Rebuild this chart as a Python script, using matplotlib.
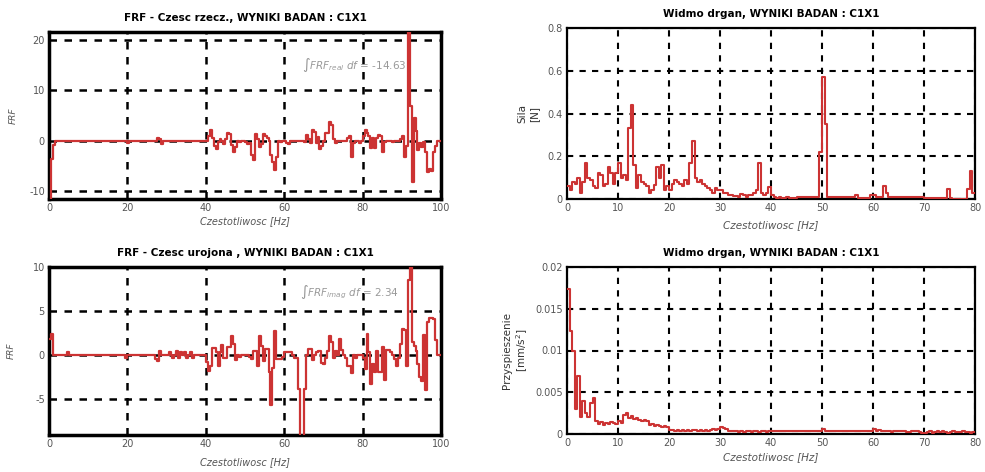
import numpy as np
import matplotlib
matplotlib.use("Agg")
import matplotlib.pyplot as plt

# ---------------- data ----------------
# FRF frequency grid (0.5 Hz step, 0..100 Hz)
frf_freq = np.arange(0, 100.5, 0.5)

frf_real = [
    -12, -3.5, -0.8, 0, 0, 0, 0, 0, 0, 0,          # 0-4.5
    0, 0, 0, 0, 0, 0, 0, 0, 0, 0,                   # 5-9.5
    0, 0, 0, 0, 0, 0, 0, 0, 0, 0,                   # 10-14.5
    0, 0, 0, 0, 0, 0, 0, 0, 0, 0,                   # 15-19.5
    -0.4, 0, 0, 0, 0, 0, 0, 0, 0, 0,                # 20-24.5
    0, 0, 0, 0, 0, 0.5, 0.3, -0.6, 0, 0,            # 25-29.5
    0, 0, 0, 0, 0, 0, 0, 0, 0, 0,                   # 30-34.5
    0, 0, 0, 0, 0, 0, 0, 0, 0, 0,                   # 35-39.5
    0, 1.0, 2.2, 0.5, -1.0, -1.6, -0.3, 0.4, 0, -0.6,   # 40-44.5
    0.3, 1.5, 1.4, -0.8, -2.2, -1.2, 0, -0.3, 0, 0,     # 45-49.5
    -0.3, -0.6, -0.5, -2.9, -3.7, 1.4, 0.3, -1.3, -0.6, 1.4,  # 50-54.5
    1.0, 0.5, 0, -2.9, -4.2, -5.8, -3.2, 0, -0.3, 0,    # 55-59.5
    0, -0.5, -0.6, 0, 0, 0, 0, 0, 0, 0,                 # 60-64.5
    -0.3, 1.2, 0.3, -0.4, 2.1, 1.8, -0.5, 0.7, -1.6, -1.0,  # 65-69.5
    0, 1.6, 1.6, 3.7, 3.2, 0.3, -0.5, 0, 0, 0,          # 70-74.5
    0, 0, 0.5, 1.0, -3.2, -0.5, 0, 0, -0.5, 0,          # 75-79.5
    1.0, 2.1, 1.5, 1.0, -1.5, 0.5, -1.5, 0.5, 1.2, 1.0, # 80-84.5
    -2.2, -0.3, 0, 0, 0, -0.3, 0, 0, 0, 0.3,            # 85-89.5
    1.0, -3.2, -1.0, 23, 6.8, -8.2, 4.5, 2.0, -1.9, -0.5,  # 90-94.5
    -1.2, -0.3, -2.3, -6.1, -5.5, -6.0, -2.3, -1.0, 0, 0,  # 95-99.5
    0,                                                  # 100
]

frf_imag = [
    1.8, 2.4, 0, 0, 0, 0, 0, 0, 0, 0.3,             # 0-4.5
    0, 0, 0, 0, 0, 0, 0, 0, 0, 0,                   # 5-9.5
    0, 0, 0, 0, 0, 0, 0, 0, 0, 0,                   # 10-14.5
    0, 0, 0, 0, 0, 0, 0, 0, 0, -0.3,                # 15-19.5
    0, 0, 0, 0, 0, 0, 0, 0, 0, 0,                   # 20-24.5
    0, 0, 0, 0, -0.5, -0.7, 0.5, 0, 0, 0,           # 25-29.5
    0, 0.3, 0, -0.3, 0, 0.5, -0.4, 0.3, 0, 0.3,     # 30-34.5
    -0.3, 0, 0.3, -0.4, 0, 0, 0, 0, 0, 0,           # 35-39.5
    -0.8, -1.8, -1.2, 0.8, 0.8, 0.3, -1.3, 0.3, 1.1, -0.4,  # 40-44.5
    -0.4, 0.9, 0.9, 2.1, 1.3, -0.6, 0, -0.2, 0, 0,      # 45-49.5
    0, 0, -0.2, -0.5, 0.5, 0.5, -1.2, 2.2, 1.0, -0.7,   # 50-54.5
    0.7, 0.7, -1.9, -5.7, -1.5, 2.7, -0.5, -0.5, -0.5, -0.2,  # 55-59.5
    0.3, 0.3, 0.3, 0.3, 0, -0.3, -0.3, -3.9, -9.5, -9.5,      # 60-64.5
    -3.9, 0, 0.7, 0.7, -0.6, 0, 0.3, 0.5, 0.5, -0.9,    # 65-69.5
    -1.0, -0.3, 0.5, 2.1, 1.5, -0.3, 0.5, 0, 1.8, 0.6,  # 70-74.5
    0, -0.3, -1.2, -1.3, -2.0, 0, -0.3, 0, 0, 0,        # 75-79.5
    -0.3, -1.6, 2.4, 0.3, -3.3, -1.0, -1.9, 0.5, -1.9, -1.9,  # 80-84.5
    0.9, -2.8, 0.6, 0.6, 0.3, 0, -0.5, -1.3, -0.3, 1.2,  # 85-89.5
    3.0, 2.8, -1.3, 8.5, 10.5, 1.5, 1.0, 0.4, -1.0, -2.5,  # 90-94.5
    -3.0, 2.3, -4.0, 3.8, 4.2, 4.2, 4.1, 1.7, 0, 0,     # 95-99.5
    0,                                                  # 100
]

# Spectrum frequency grid (0.5 Hz step, 0..80 Hz)
spec_freq = np.arange(0, 80.5, 0.5)

force = [
    0.06, 0.04, 0.08, 0.07, 0.10, 0.03, 0.08, 0.17, 0.10, 0.09,   # 0-4.5
    0.06, 0.05, 0.12, 0.11, 0.06, 0.07, 0.15, 0.12, 0.07, 0.12,   # 5-9.5
    0.17, 0.10, 0.11, 0.09, 0.33, 0.44, 0.16, 0.05, 0.11, 0.08,   # 10-14.5
    0.07, 0.06, 0.03, 0.04, 0.065, 0.15, 0.10, 0.16, 0.04, 0.06,  # 15-19.5
    0.04, 0.07, 0.09, 0.08, 0.07, 0.06, 0.09, 0.07, 0.17, 0.27,   # 20-24.5
    0.10, 0.08, 0.09, 0.07, 0.06, 0.05, 0.04, 0.03, 0.05, 0.04,   # 25-29.5
    0.04, 0.03, 0.03, 0.02, 0.02, 0.015, 0.015, 0.01, 0.025, 0.02,  # 30-34.5
    0.01, 0.02, 0.02, 0.03, 0.04, 0.17, 0.03, 0.02, 0.03, 0.055,   # 35-39.5
    0.02, 0.01, 0.005, 0.01, 0.005, 0.005, 0.01, 0.005, 0.005, 0.005,  # 40-44.5
    0.01, 0.01, 0.01, 0.01, 0.01, 0.01, 0.01, 0.01, 0.01, 0.22,   # 45-49.5
    0.57, 0.35, 0.01, 0.01, 0.01, 0.01, 0.01, 0.01, 0.01, 0.01,   # 50-54.5
    0.01, 0.01, 0.01, 0.02, 0.005, 0.005, 0.005, 0.005, 0.005, 0.02,  # 55-59.5
    0.02, 0.01, 0.01, 0.01, 0.06, 0.03, 0.01, 0.01, 0.01, 0.01,   # 60-64.5
    0.01, 0.01, 0.01, 0.01, 0.01, 0.01, 0.01, 0.01, 0.01, 0.01,   # 65-69.5
    0.005, 0.005, 0.005, 0.005, 0.005, 0.005, 0.005, 0.005, 0.005, 0.045,  # 70-74.5
    0.005, 0.002, 0.002, 0.002, 0.002, 0.002, 0.002, 0.045, 0.13, 0.03,   # 75-79.5
    0.03,                                                          # 80
]

accel = [
    0.0174, 0.0123, 0.0099, 0.0030, 0.0070, 0.0020, 0.0040, 0.0025, 0.0020, 0.0037,  # 0-4.5
    0.0043, 0.0015, 0.0012, 0.0014, 0.0011, 0.0013, 0.0012, 0.0014, 0.0013, 0.0012,  # 5-9.5
    0.0015, 0.0013, 0.0023, 0.0025, 0.0019, 0.0021, 0.0018, 0.0019, 0.0017, 0.0016,  # 10-14.5
    0.0017, 0.0015, 0.0011, 0.0012, 0.0010, 0.0011, 0.0009, 0.0008, 0.0009, 0.0008,  # 15-19.5
    0.0005, 0.0005, 0.0004, 0.0005, 0.0004, 0.0005, 0.0004, 0.0005, 0.0004, 0.0005,  # 20-24.5
    0.0005, 0.0004, 0.0005, 0.0004, 0.0005, 0.0004, 0.0005, 0.0006, 0.0005, 0.0006,  # 25-29.5
    0.0008, 0.0007, 0.0006, 0.0004, 0.0003, 0.0004, 0.0003, 0.0002, 0.0003, 0.0002,  # 30-34.5
    0.0003, 0.0003, 0.0002, 0.0003, 0.0003, 0.0002, 0.0003, 0.0003, 0.0002, 0.0003,  # 35-39.5
    0.0003, 0.0003, 0.0003, 0.0003, 0.0003, 0.0003, 0.0003, 0.0003, 0.0003, 0.0003,  # 40-44.5
    0.0003, 0.0003, 0.0003, 0.0003, 0.0003, 0.0003, 0.0003, 0.0003, 0.0003, 0.0004,  # 45-49.5
    0.0006, 0.0004, 0.0003, 0.0003, 0.0003, 0.0004, 0.0004, 0.0003, 0.0004, 0.0004,  # 50-54.5
    0.0003, 0.0003, 0.0003, 0.0003, 0.0004, 0.0004, 0.0003, 0.0003, 0.0003, 0.0004,  # 55-59.5
    0.0006, 0.0004, 0.0005, 0.0003, 0.0004, 0.0003, 0.0003, 0.0002, 0.0003, 0.0003,  # 60-64.5
    0.0003, 0.0003, 0.0003, 0.0002, 0.0002, 0.0003, 0.0003, 0.0003, 0.0002, 0.0001,  # 65-69.5
    0.0001, 0.0002, 0.0003, 0.0001, 0.0002, 0.0003, 0.0002, 0.0003, 0.0002, 0.0001,  # 70-74.5
    0.0002, 0.0003, 0.0002, 0.0002, 0.0002, 0.0003, 0.0002, 0.0002, 0.0001, 0.0002,  # 75-79.5
    0.0002,                                                                          # 80
]

titles = [
    "FRF - Czesc rzecz., WYNIKI BADAN : C1X1",
    "FRF - Czesc urojona , WYNIKI BADAN : C1X1",
    "Widmo drgan, WYNIKI BADAN : C1X1",
    "Widmo drgan, WYNIKI BADAN : C1X1",
]
xlabel = "Czestotliwosc [Hz]"
frf_xticks = [0, 20, 40, 60, 80, 100]
real_yticks = [-10, 0, 10, 20]
imag_yticks = [-5, 0, 5, 10]
spec_xticks = [0, 10, 20, 30, 40, 50, 60, 70, 80]
force_yticks = [0, 0.2, 0.4, 0.6, 0.8]
force_yticklabels = ["0", "0.2", "0.4", "0.6", "0.8"]
accel_yticks = [0, 0.005, 0.01, 0.015, 0.02]
accel_yticklabels = ["0", "0.005", "0.01", "0.015", "0.02"]
real_integral = "-14.63"
imag_integral = "2.34"

# ---------------- style ----------------
RED = "#cc3333"
TICK_COL = "#555555"
plt.rcParams["font.family"] = ["DejaVu Sans"]
plt.rcParams["axes.unicode_minus"] = False

fig = plt.figure(figsize=(9.85, 4.72), dpi=100)
W, H = 985, 472


def add_ax(x0, y0, x1, y1):
    return fig.add_axes([x0 / W, 1 - y1 / H, (x1 - x0) / W, (y1 - y0) / H])


def style(ax, lw_frame, grid_lw):
    for s in ax.spines.values():
        s.set_linewidth(lw_frame)
        s.set_color("black")
    ax.tick_params(length=0, labelsize=7, labelcolor=TICK_COL, pad=3)
    ax.grid(True, color="black", linestyle=(0, (3, 3)), linewidth=grid_lw)
    ax.set_axisbelow(True)


ax1 = add_ax(49, 32, 441, 199)
ax2 = add_ax(49, 267, 441, 435)
ax3 = add_ax(567, 28, 975, 199)
ax4 = add_ax(567, 267, 975, 434)

# FRF real
ax1.plot(frf_freq, frf_real, color=RED, lw=1.6, drawstyle="steps-post", zorder=3)
ax1.set_xlim(0, 100)
ax1.set_ylim(-11.5, 21.5)
ax1.set_xticks(frf_xticks)
ax1.set_yticks(real_yticks)
style(ax1, 2.5, 1.8)
ax1.set_title(titles[0], fontsize=7.5, fontweight="bold", pad=8)
ax1.set_xlabel(xlabel, fontsize=7, color=TICK_COL, style="italic", labelpad=2)
ax1.set_ylabel("FRF", fontsize=6.5, color=TICK_COL, style="italic", labelpad=8)
ax1.text(64.5, 15, r"$\int FRF_{real}\ df$ = " + real_integral,
         fontsize=7.5, color="#999999", va="center", ha="left")

# FRF imag
ax2.plot(frf_freq, frf_imag, color=RED, lw=1.6, drawstyle="steps-post", zorder=3)
ax2.set_xlim(0, 100)
ax2.set_ylim(-9.1, 10)
ax2.set_xticks(frf_xticks)
ax2.set_yticks(imag_yticks)
style(ax2, 2.5, 1.8)
ax2.set_title(titles[1], fontsize=7.5, fontweight="bold", pad=8)
ax2.set_xlabel(xlabel, fontsize=7, color=TICK_COL, style="italic", labelpad=6)
ax2.set_ylabel("FRF", fontsize=6.5, color=TICK_COL, style="italic", labelpad=12)
ax2.text(64, 7.1, r"$\int FRF_{imag}\ df$ = " + imag_integral,
         fontsize=7.5, color="#999999", va="center", ha="left")

# Force spectrum
ax3.plot(spec_freq, force, color=RED, lw=1.5, drawstyle="steps-post", zorder=3)
ax3.set_xlim(0, 80)
ax3.set_ylim(0, 0.8)
ax3.set_xticks(spec_xticks)
ax3.set_yticks(force_yticks)
ax3.set_yticklabels(force_yticklabels)
style(ax3, 1.6, 1.5)
ax3.set_title(titles[2], fontsize=7.5, fontweight="bold", pad=8)
ax3.set_xlabel(xlabel, fontsize=7.5, color=TICK_COL, style="italic", labelpad=5)
ax3.set_ylabel("Sila\n[N]", fontsize=7.5, color="#333333", labelpad=6)

# Acceleration spectrum
ax4.plot(spec_freq, accel, color=RED, lw=1.5, drawstyle="steps-post", zorder=3)
ax4.set_xlim(0, 80)
ax4.set_ylim(0, 0.02)
ax4.set_xticks(spec_xticks)
ax4.set_yticks(accel_yticks)
ax4.set_yticklabels(accel_yticklabels)
style(ax4, 1.6, 1.5)
ax4.set_title(titles[3], fontsize=7.5, fontweight="bold", pad=8)
ax4.set_xlabel(xlabel, fontsize=7.5, color=TICK_COL, style="italic", labelpad=3)
ax4.set_ylabel("Przyspieszenie\n[mm/s$^2$]", fontsize=7.5, color="#333333", labelpad=4)

fig.savefig("out.png", dpi=100)
